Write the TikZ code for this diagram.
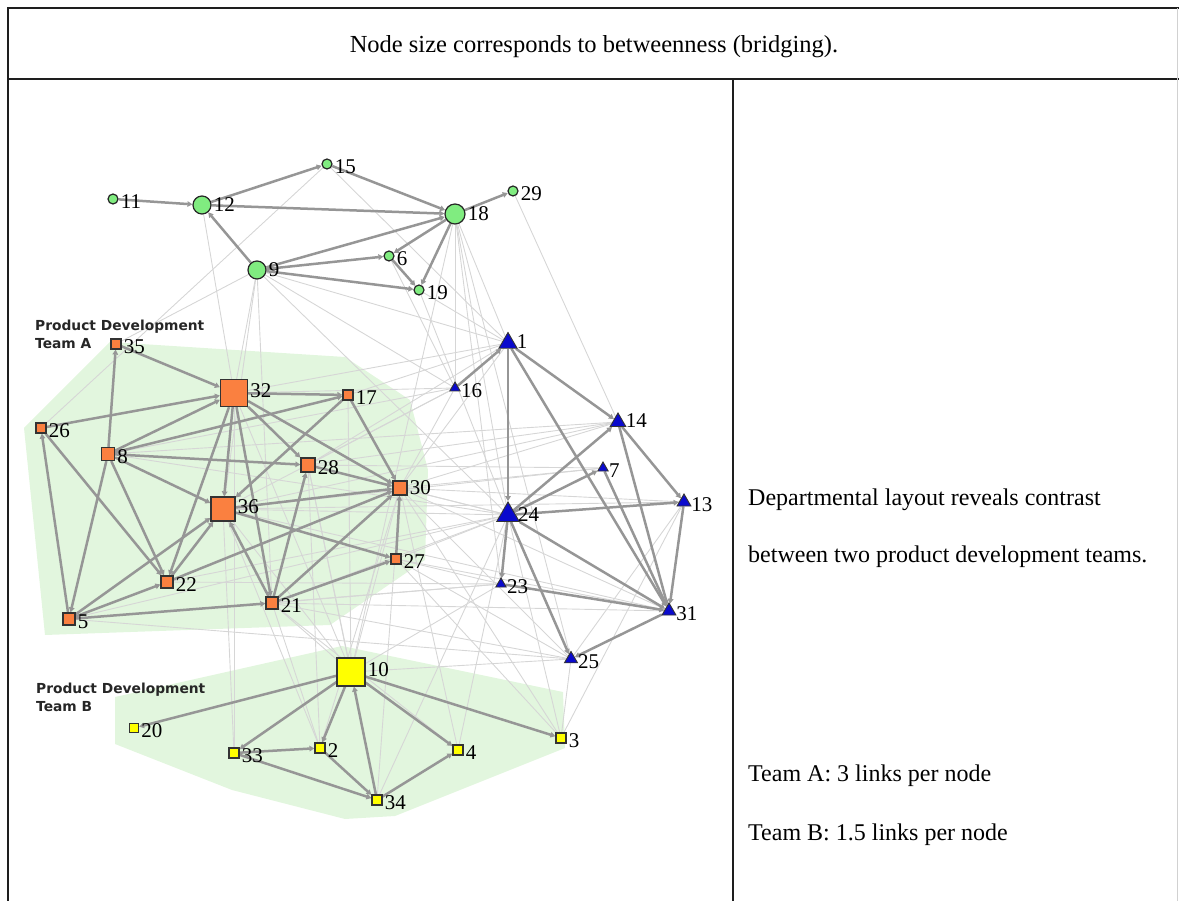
\documentclass[tikz,border=0pt]{standalone}
\usepackage{fontspec}
\setmainfont{Liberation Serif}
\newfontfamily\teamfont{DejaVu Sans}
\usetikzlibrary{shapes.geometric,arrows.meta}
\pgfdeclarelayer{hulls}
\pgfdeclarelayer{edges}
\pgfsetlayers{hulls,edges,main}
\definecolor{hullgreen}{RGB}{226,246,222}
\definecolor{nodegreen}{RGB}{128,236,128}
\definecolor{nodeorange}{RGB}{250,128,64}
\definecolor{nodeblue}{RGB}{10,10,205}
\definecolor{nodeyellow}{RGB}{255,255,0}
\definecolor{edgedark}{RGB}{150,150,150}
\definecolor{edgelight}{RGB}{214,214,214}
\definecolor{rule}{RGB}{30,30,30}
\tikzset{
  gnode/.style={circle, draw=black!85, line width=1.2pt, fill=nodegreen, inner sep=0pt},
  onode/.style={rectangle, draw=black!80, line width=1.2pt, fill=nodeorange, inner sep=0pt},
  ynode/.style={rectangle, draw=black!80, line width=1.2pt, fill=nodeyellow, inner sep=0pt},
  bnode/.style={regular polygon, regular polygon sides=3, draw=black!80, line width=0.9pt, fill=nodeblue, inner sep=0pt},
  num/.style={font=\fontsize{21}{21}\selectfont, inner sep=0pt, anchor=west},
  darkedge/.style={draw=edgedark, line width=2.5pt, -{Triangle[length=5pt,width=5.5pt]}},
  lightedge/.style={draw=edgelight, line width=0.9pt},
  hull/.style={fill=hullgreen, draw=none},
  teamlbl/.style={font=\teamfont\bfseries\fontsize{13.8}{18}\selectfont, text=black!85, align=left, inner sep=0pt, anchor=north west},
  bodytxt/.style={font=\fontsize{24}{24}\selectfont, inner sep=0pt, anchor=base west},
}
\newcommand\nd[5][-3pt]{%
  \node[#2, minimum size=#3pt] (n#4) at (#5) {};
  \node[num] (l#4) at ([xshift=2pt,yshift=#1]n#4.east) {#4};}
\begin{document}
\begin{tikzpicture}[x=1pt,y=-1pt]
\useasboundingbox (0,0) rectangle (1179,901);
% frame
\draw[rule, line width=2pt] (1179,8) -- (8,8) -- (8,901);
\draw[rule, line width=2pt] (8,79) -- (1179,79);
\draw[rule, line width=1.6pt] (733,79) -- (733,901);
\draw[black!18, line width=1pt] (1177,8) -- (1177,901);
\node[font=\fontsize{24.5}{25}\selectfont, anchor=base, inner sep=0pt] (title) at (594,53) {Node size corresponds to betweenness (bridging).};
\node[bodytxt] (t1) at (748,505) {Departmental layout reveals contrast};
\node[bodytxt] (t2) at (748,562) {between two product development teams.};
\node[bodytxt] (t3) at (748,781) {Team A: 3 links per node};
\node[bodytxt] (t4) at (748,840) {Team B: 1.5 links per node};
% hulls
\begin{pgfonlayer}{hulls}
\fill[hull] (45,635) -- (24,428) -- (110,342) -- (345,357) -- (410,400) -- (428,470) -- (425,560) -- (330,625) -- cycle;
\fill[hull] (115,697) -- (342,646) -- (563,692) -- (565,748) -- (395,816) -- (345,819) -- (232,790) -- (115,744) -- cycle;
\end{pgfonlayer}
\node[teamlbl] (teamA) at (35,320) {Product Development\\Team A};
\node[teamlbl] (teamB) at (36,683) {Product Development\\Team B};
% green nodes
\nd{gnode}{10}{11}{113,199}
\nd[0pt]{gnode}{18}{12}{202,205}
\nd{gnode}{10}{15}{327,164}
\nd[0pt]{gnode}{20}{18}{455,214}
\nd{gnode}{10}{29}{513,191}
\nd[0pt]{gnode}{18}{9}{257,270}
\nd{gnode}{10}{6}{389,256}
\nd{gnode}{10}{19}{419,290}
% orange nodes
\nd{onode}{10}{35}{116,344}
\nd[2pt]{onode}{27}{32}{234,393}
\nd{onode}{10}{17}{348,395}
\nd{onode}{10}{26}{41,428}
\nd{onode}{13}{8}{108,454}
\nd{onode}{14}{28}{308,465}
\nd[0pt]{onode}{14}{30}{400,488}
\nd[2pt]{onode}{24}{36}{223,509}
\nd{onode}{10}{27}{396,559}
\nd{onode}{12}{22}{167,582}
\nd{onode}{12}{21}{272,603}
\nd{onode}{12}{5}{69,619}
% blue nodes
\nd[1pt]{bnode}{21}{1}{508,343}
\nd{bnode}{12}{16}{455,388}
\nd[1pt]{bnode}{18}{14}{618,422}
\nd{bnode}{12}{7}{603,468}
\nd{bnode}{16}{13}{684,502}
\nd[0pt]{bnode}{26}{24}{508,515}
\nd{bnode}{12}{23}{501,584}
\nd{bnode}{16}{31}{669,611}
\nd{bnode}{15}{25}{571,659}
% yellow nodes
\nd[2pt]{ynode}{28}{10}{351,672}
\nd{ynode}{9}{20}{134,728}
\nd{ynode}{10}{33}{234,753}
\nd{ynode}{10}{2}{320,748}
\nd{ynode}{10}{4}{458,750}
\nd{ynode}{10}{3}{561,738}
\nd{ynode}{10}{34}{377,800}
% edges
\begin{pgfonlayer}{edges}
\foreach \a/\b in {12/32,9/32,9/36,9/21,9/35,15/26,15/1,29/14,9/1,9/24,9/16,18/1,18/24,18/16,18/23,18/25,18/10,19/1,19/24,6/16,
  16/30,16/28,16/32,16/36,1/32,1/30,1/17,24/30,24/36,24/21,24/22,24/5,24/27,24/28,24/8,14/28,14/30,14/36,13/30,
  23/21,23/27,23/10,23/5,25/30,25/10,25/21,25/27,25/5,3/25,3/24,3/30,3/27,10/30,10/36,10/32,10/21,10/28,10/17,
  33/36,33/32,2/36,2/28,2/21,2/30,4/21,4/30,4/24,34/30,34/28,34/24,31/30,31/36,7/30,7/28,3/13,25/13,
  13/36,14/8,7/36,31/21,31/27,23/22,1/28,16/8}
  \draw[lightedge] (n\a) -- (n\b);
\foreach \a/\b in {11/12,12/15,12/18,9/12,15/18,18/29,9/18,9/6,9/19,18/6,18/19,6/19,
  35/32,8/35,32/17,26/32,8/32,8/17,32/36,32/22,32/28,32/30,8/28,8/36,8/22,8/5,5/26,26/22,17/36,21/28,17/30,
  28/30,36/30,27/30,22/30,5/36,5/22,5/21,21/36,21/30,21/27,36/27,22/36,32/21,
  16/1,1/24,1/14,1/31,24/14,14/13,14/31,24/7,7/31,24/13,24/31,24/23,23/31,24/25,13/31,31/25,
  10/20,10/33,10/2,34/10,10/4,10/3,33/2,33/34,2/34,34/4}
  \draw[darkedge] (n\a) -- (n\b);
\end{pgfonlayer}
\end{tikzpicture}
\end{document}
